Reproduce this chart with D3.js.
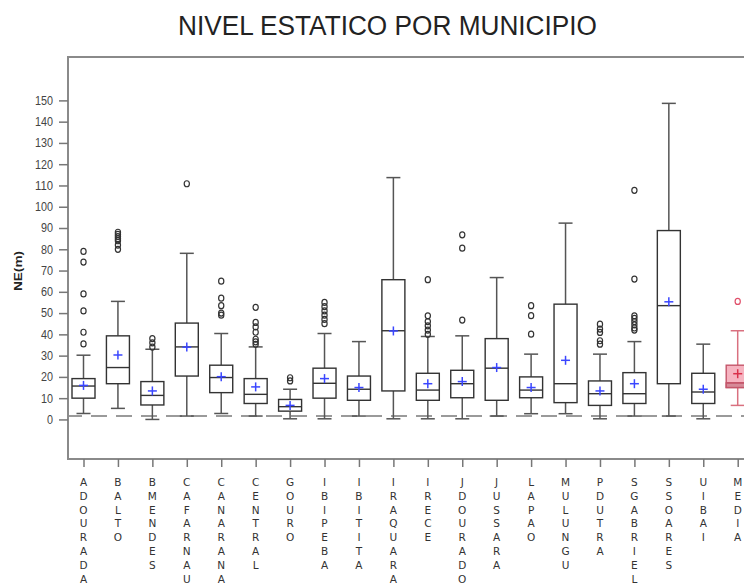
<!DOCTYPE html>
<html>
<head>
<meta charset="utf-8">
<script src="https://cdn.jsdelivr.net/npm/d3@7"></script>
<style>
html,body{margin:0;padding:0;background:#fff;}
svg{display:block;}
</style>
</head>
<body>
<svg id="chart" width="744" height="587"></svg>
<script>
const categories = ["ADOURADA","BALTO","BMENDES","CAFARNAU","CANARANA","CENTRAL","GOURO","IBIPEBA","IBITITA","IRAQUARA","IRECE","JDOURADO","JUSSARA","LAPAO","MULUNGU","PDUTRA","SGABRIEL","SSOARES","UIBAI","MEDIA"];
const whiskerLow  = [2.8, 5.2, 0.0, 1.6, 2.8, 1.6, 0.3, 0.3, 1.6, 0.3, 0.3, 0.3, 1.6, 2.7, 2.7, 0.3, 1.6, 1.6, 0.3, 6.6];
const q1          = [10.0,16.8, 6.8,20.4,12.6, 7.5, 3.9,10.0, 9.0,13.4, 9.0,10.2, 9.0,10.2, 7.9, 6.6, 7.5,16.8, 7.5,15.0];
const medians     = [15.7,24.4,11.3,34.1,19.7,11.8, 6.0,17.0,14.2,41.7,13.8,16.8,24.1,13.8,16.8,12.1,12.1,53.5,12.9,17.2];
const q3          = [19.2,39.3,17.8,45.3,25.5,19.2, 9.4,24.1,20.4,65.7,21.7,23.1,38.0,20.0,54.2,18.1,22.0,88.8,21.7,25.5];
const whiskerHigh = [30.2,55.5,33.0,78.1,40.4,34.1,14.2,40.4,36.6,113.7,39.0,39.3,66.7,30.7,92.3,30.7,36.6,148.6,35.4,41.7];
const means       = [16.0,30.3,13.4,34.0,20.1,15.3, 6.6,19.2,15.0,41.6,16.8,17.8,24.4,15.0,27.8,13.4,16.8,55.3,14.2,21.5];
const outliers = [
  [79,74,59,51,41,35.5],
  [88,87,86,85,84,82,80],
  [38,36,34],
  [110.8],
  [65,57,53.5,50,49],
  [52.7,45.6,43.5,41,37.7,36.5,35.3],
  [19.6,18.1],
  [55,53,51,49,47,45],
  [],
  [],
  [65.7,48.7,46,44,42,40],
  [86.8,80.5,46.7],
  [],
  [53.5,48.8,40.1],
  [],
  [44.8,42.5,40.9,37,35.4],
  [107.7,66,48.7,47.5,46,44.5,43,42],
  [],
  [],
  [55.5]
];
const yTicks = d3.range(0, 151, 10);
const refValue = 1.6;
const titleText = "NIVEL ESTATICO POR MUNICIPIO";
const yLabel = "NE(m)";

const svg = d3.select("#chart");
const frame = {left: 68, top: 57, right: 752, bottom: 459};

const x = d3.scalePoint().domain(categories).range([83.5, 737.7]);
const y = d3.scaleLinear().domain([-18.6, 170.4]).range([frame.bottom, frame.top]);

// Title
svg.append("text")
  .attr("x", 387.5).attr("y", 35)
  .attr("text-anchor", "middle")
  .attr("font-family", "Liberation Sans, Arial, sans-serif")
  .attr("font-size", 27)
  .attr("textLength", 419)
  .attr("lengthAdjust", "spacingAndGlyphs")
  .attr("fill", "#222")
  .text(titleText);

// Frame
svg.append("rect")
  .attr("x", frame.left).attr("y", frame.top)
  .attr("width", frame.right - frame.left).attr("height", frame.bottom - frame.top)
  .attr("fill", "none").attr("stroke", "#8a8a8a").attr("stroke-width", 2);

// Y axis
const yAxis = svg.append("g")
  .attr("transform", `translate(${frame.left},0)`)
  .call(d3.axisLeft(y).tickValues(yTicks).tickSize(9).tickPadding(6).tickFormat(d3.format("d")));
yAxis.select(".domain").remove();
yAxis.selectAll(".tick line").attr("stroke", "#777").attr("stroke-width", 1.5);
yAxis.selectAll(".tick text")
  .attr("font-family", "Liberation Sans, Arial, sans-serif")
  .attr("font-size", 12)
  .attr("fill", "#444")
  .attr("textLength", d => String(d).length * 6)
  .attr("lengthAdjust", "spacingAndGlyphs");

// Y label
svg.append("text")
  .attr("transform", "translate(22,271) rotate(-90)")
  .attr("text-anchor", "middle")
  .attr("font-family", "Liberation Sans, Arial, sans-serif")
  .attr("font-size", 10).attr("font-weight", "bold")
  .attr("textLength", 40).attr("lengthAdjust", "spacingAndGlyphs")
  .attr("fill", "#222")
  .text(yLabel);

// X axis ticks
const xAxis = svg.append("g")
  .attr("transform", `translate(0,${frame.bottom})`)
  .call(d3.axisBottom(x).tickSize(8).tickFormat(""));
xAxis.select(".domain").remove();
xAxis.selectAll(".tick line").attr("stroke", "#777").attr("stroke-width", 1.5);

// X labels: stacked letters
const labG = svg.append("g");
categories.forEach(c => {
  c.split("").forEach((ch, i) => {
    labG.append("text")
      .attr("x", x(c)).attr("y", 482 + i * 13.8)
      .attr("text-anchor", "middle")
      .attr("dominant-baseline", "central")
      .attr("font-family", "DejaVu Sans, sans-serif")
      .attr("font-size", 10.5)
      .attr("fill", "#333")
      .text(ch);
  });
});

// Reference dashed line
svg.append("line")
  .attr("x1", frame.left + 1).attr("x2", frame.right)
  .attr("y1", y(refValue)).attr("y2", y(refValue))
  .attr("stroke", "#9a9a9a").attr("stroke-width", 2)
  .attr("stroke-dasharray", "16,9").attr("stroke-dashoffset", 3);

// Boxes
const boxW = 23, capW = 14;
const data = categories.map((c, i) => ({
  c, lo: whiskerLow[i], q1: q1[i], med: medians[i], q3: q3[i], hi: whiskerHigh[i],
  mean: means[i], out: outliers[i], special: c === "MEDIA"
}));

const g = svg.append("g");
data.forEach(d => {
  const cx = x(d.c);
  const lineCol = d.special ? "#d9707f" : "#555";
  const boxCol = d.special ? "#c4566a" : "#333";
  const gg = g.append("g");
  // whiskers
  gg.append("line").attr("x1", cx).attr("x2", cx).attr("y1", y(d.q3)).attr("y2", y(d.hi))
    .attr("stroke", lineCol).attr("stroke-width", 1.5);
  gg.append("line").attr("x1", cx).attr("x2", cx).attr("y1", y(d.q1)).attr("y2", y(d.lo))
    .attr("stroke", lineCol).attr("stroke-width", 1.5);
  gg.append("line").attr("x1", cx - capW/2).attr("x2", cx + capW/2).attr("y1", y(d.hi)).attr("y2", y(d.hi))
    .attr("stroke", lineCol).attr("stroke-width", 1.5);
  gg.append("line").attr("x1", cx - capW/2).attr("x2", cx + capW/2).attr("y1", y(d.lo)).attr("y2", y(d.lo))
    .attr("stroke", lineCol).attr("stroke-width", 1.5);
  // box
  gg.append("rect").attr("x", cx - boxW/2).attr("y", y(d.q3))
    .attr("width", boxW).attr("height", y(d.q1) - y(d.q3))
    .attr("fill", d.special ? "#f6b3c0" : "#fff")
    .attr("stroke", boxCol).attr("stroke-width", 1.4);
  if (d.special) {
    gg.append("rect").attr("x", cx - boxW/2).attr("y", y(d.med))
      .attr("width", boxW).attr("height", y(d.q1) - y(d.med))
      .attr("fill", "#d68a98").attr("stroke", boxCol).attr("stroke-width", 1.4);
  }
  gg.append("line").attr("x1", cx - boxW/2).attr("x2", cx + boxW/2).attr("y1", y(d.med)).attr("y2", y(d.med))
    .attr("stroke", boxCol).attr("stroke-width", 1.4);
  // mean
  const mc = d.special ? "#d9304a" : "#3a46ff";
  gg.append("line").attr("x1", cx - 4.5).attr("x2", cx + 4.5).attr("y1", y(d.mean)).attr("y2", y(d.mean))
    .attr("stroke", mc).attr("stroke-width", 1.5);
  gg.append("line").attr("x1", cx).attr("x2", cx).attr("y1", y(d.mean) - 4.5).attr("y2", y(d.mean) + 4.5)
    .attr("stroke", mc).attr("stroke-width", 1.5);
  // outliers
  d.out.forEach(v => {
    gg.append("ellipse").attr("cx", cx).attr("cy", y(v)).attr("rx", 2.6).attr("ry", 3)
      .attr("fill", "none").attr("stroke", d.special ? "#e0506a" : "#333").attr("stroke-width", 1.2);
  });
});
</script>
</body>
</html>
